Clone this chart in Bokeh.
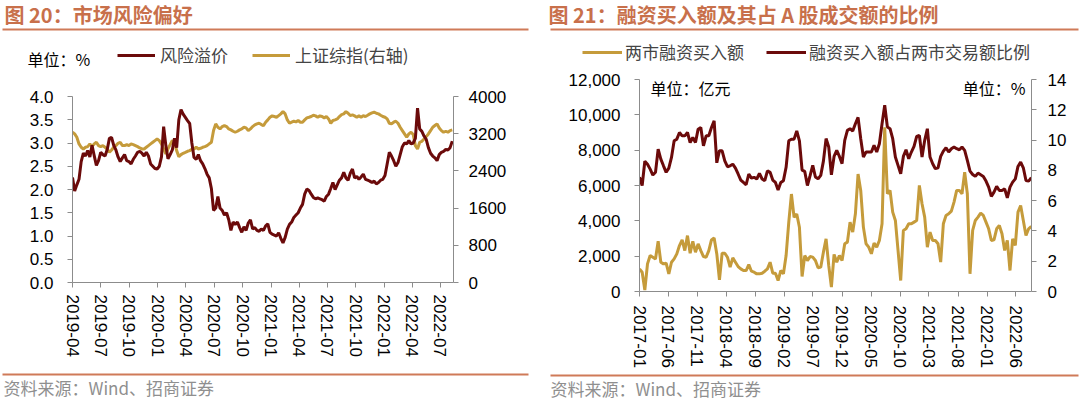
import pandas as pd
from bokeh.plotting import figure
from bokeh.models import (Range1d, LinearAxis, FixedTicker, NumeralTickFormatter,
                          DatetimeTickFormatter, Legend, LegendItem, Label,
                          BoxAnnotation, ColumnDataSource)
from bokeh.layouts import row, column
from bokeh.embed import file_html
from bokeh.resources import INLINE

# ---------------- data: left chart (weekly from 2019-04-01) ----------------
left_start = "2019-04-01"
risk_premium = [
    2.26, 1.97, 2.10, 2.22, 2.60, 2.78, 2.72, 2.84, 2.70, 2.95,
    2.73, 2.52, 2.62, 2.80, 2.75, 2.72, 2.86, 3.10, 3.12, 2.95,
    2.85, 2.70, 2.60, 2.68, 2.75, 2.62, 2.60, 2.55, 2.65, 2.72,
    2.80, 2.82, 2.78, 2.72, 2.80, 2.72, 2.55, 2.50, 2.45, 2.44,
    2.50, 2.70, 3.35, 2.95, 2.66, 2.75, 2.85, 3.10, 2.90, 3.50,
    3.72, 3.62, 3.55, 3.48, 3.42, 3.00, 2.69, 2.65, 2.75, 2.62,
    2.55, 2.45, 2.33, 2.25, 2.02, 1.55, 1.60, 1.85, 1.60, 1.55,
    1.45, 1.50, 1.35, 1.12, 1.30, 1.25, 1.30, 1.18, 1.08, 1.20,
    1.12, 1.28, 1.35, 1.15, 1.18, 1.12, 1.10, 1.15, 1.12, 1.22,
    1.26, 1.08, 1.04, 1.02, 1.00, 1.07, 0.95, 0.85, 0.97, 1.15,
    1.25, 1.30, 1.40, 1.45, 1.50, 1.60, 1.68, 1.90, 2.01, 1.98,
    1.90, 1.83, 1.80, 1.82, 1.80, 1.78, 1.75, 1.85, 1.90, 2.02,
    2.15, 2.00, 2.10, 2.20, 2.25, 2.37, 2.25, 2.20, 2.35, 2.44,
    2.25, 2.28, 2.22, 2.27, 2.33, 2.22, 2.20, 2.18, 2.15, 2.18,
    2.12, 2.15, 2.20, 2.22, 2.30, 2.55, 2.80, 2.72, 2.62, 2.50,
    2.58, 2.75, 2.92, 3.00, 2.98, 3.05, 2.98, 3.00, 3.10, 3.75,
    3.30, 3.25, 3.15, 3.08, 2.90, 2.78, 2.72, 2.68, 2.62, 2.75,
    2.80, 2.82, 2.86, 2.85, 2.90, 3.04,
]
sh_index = [
    3231, 3195, 3123, 2980, 2908, 2872, 2908, 2922, 2980, 2930,
    2980, 3016, 2944, 2922, 2944, 2908, 2872, 2800, 2850, 2908,
    2944, 2994, 3016, 2944, 2944, 2965, 2944, 2980, 2965, 2944,
    2922, 2894, 2872, 2872, 2908, 2944, 2980, 3016, 3052, 3087,
    3052, 2980, 2872, 2764, 2872, 2965, 3052, 3016, 2836, 2707,
    2750, 2779, 2800, 2822, 2836, 2865, 2872, 2908, 2872, 2886,
    2908, 2922, 2944, 2980, 3016, 3267, 3411, 3339, 3303, 3353,
    3375, 3353, 3303, 3282, 3253, 3231, 3253, 3282, 3303, 3339,
    3325, 3267, 3303, 3353, 3389, 3411, 3425, 3397, 3375, 3447,
    3497, 3554, 3583, 3569, 3554, 3590, 3626, 3676, 3626, 3497,
    3425, 3447, 3468, 3454, 3483, 3447, 3447, 3497, 3540, 3554,
    3569, 3597, 3583, 3554, 3583, 3569, 3540, 3569, 3518, 3425,
    3483, 3497, 3518, 3569, 3611, 3626, 3676, 3640, 3590, 3604,
    3583, 3554, 3583, 3554, 3590, 3569, 3597, 3626, 3648, 3662,
    3640, 3626, 3597, 3569, 3554, 3518, 3425, 3411, 3447, 3468,
    3425, 3339, 3267, 3195, 3123, 3195, 3231, 3181, 2944, 2872,
    3016, 3037, 3087, 3138, 3195, 3267, 3339, 3375, 3411, 3324,
    3267, 3231, 3253, 3231, 3267, 3281,
]
left_xticks = ["2019-04", "2019-07", "2019-10", "2020-01", "2020-04", "2020-07",
               "2020-10", "2021-01", "2021-04", "2021-07", "2021-10", "2022-01",
               "2022-04", "2022-07"]
left_yticks = [0, 0.5, 1.0, 1.5, 2.0, 2.5, 3.0, 3.5, 4.0]
left_y2ticks = [0, 800, 1600, 2400, 3200, 4000]

# ---------------- data: right chart (bi-weekly from 2017-01-01) ----------------
right_start = "2017-01-01"
margin_buy = [
    1280, 1092, 80, 1563, 2034, 1940, 1845, 2850, 1657, 1563,
    1600, 998, 1657, 1845, 2128, 2600, 2919, 2316, 3163, 2165,
    2843, 2222, 2693, 2316, 1977, 1940, 2316, 2919, 3032, 2128,
    659, 2165, 2165, 1940, 1375, 1902, 1657, 1412, 1280, 1186,
    1186, 1525, 1149, 1092, 998, 998, 1036, 1149, 1280, 1657,
    1036, 1036, 621, 1186, 998, 2034, 3917, 5517, 4199, 4387,
    3634, 847, 2034, 1751, 1977, 1945, 1756, 1340, 1378, 2228,
    2983, 1473, 245, 2096, 1661, 2039, 1756, 2700, 2794, 3927,
    3361, 4399, 6650, 5721, 3644, 2700, 2511, 2133, 2738, 2511,
    2889, 3833, 9300, 5532, 5721, 4493, 4021, 2322, 623, 3455,
    3549, 3833, 3833, 3927, 4021, 6004, 4965, 4210, 2511, 3361,
    2889, 2889, 2700, 1661, 3833, 4305, 4399, 4550, 5060, 5721,
    5721, 5532, 6759, 5532, 1001, 3455, 4021, 4210, 4437, 4305,
    3927, 3549, 2889, 2926, 3549, 3738, 3266, 2322, 2889, 1189,
    2983, 2605, 4493, 4871, 4021, 3172, 3549, 3682,
]
margin_ratio = [
    7.54, 7.00, 8.60, 8.40, 8.08, 7.69, 7.87, 9.40, 8.74, 8.30,
    7.87, 8.15, 8.85, 9.95, 10.06, 10.50, 10.28, 10.28, 10.50, 9.84,
    10.17, 9.84, 10.72, 10.83, 9.62, 10.28, 10.28, 10.83, 11.27, 8.50,
    9.30, 9.29, 8.63, 8.24, 8.30, 8.41, 8.15, 7.76, 7.36, 7.20,
    7.05, 7.76, 7.49, 7.54, 7.43, 7.80, 7.43, 7.32, 7.97, 7.87,
    7.36, 7.20, 6.70, 7.20, 7.32, 8.20, 9.95, 10.06, 10.06, 10.61,
    9.95, 8.02, 7.93, 7.00, 7.65, 8.33, 7.56, 7.44, 7.67, 8.61,
    10.10, 9.54, 7.70, 8.92, 9.32, 8.92, 8.44, 9.98, 10.64, 10.75,
    10.60, 11.08, 11.50, 10.09, 8.88, 9.21, 9.21, 9.21, 9.65, 9.21,
    9.76, 11.08, 12.30, 10.86, 10.75, 10.09, 8.88, 8.33, 7.78, 8.92,
    9.36, 8.77, 9.21, 9.58, 10.24, 10.31, 8.88, 9.98, 10.75, 8.88,
    8.44, 8.11, 8.17, 8.92, 9.27, 9.49, 9.21, 9.43, 9.54, 9.43,
    9.36, 9.54, 9.32, 8.66, 7.95, 7.73, 7.60, 7.82, 7.71, 7.60,
    7.29, 6.89, 6.28, 6.56, 6.94, 6.67, 6.67, 6.78, 6.19, 6.89,
    7.22, 7.44, 8.26, 8.55, 8.17, 7.33, 7.29, 7.51,
]
right_xticks = ["2017-01", "2017-06", "2017-11", "2018-04", "2018-09", "2019-02",
                "2019-07", "2019-12", "2020-05", "2020-10", "2021-03", "2021-08",
                "2022-01", "2022-06"]
right_yticks = [0, 2000, 4000, 6000, 8000, 10000, 12000]
right_y2ticks = [0, 2, 4, 6, 8, 10, 12, 14]

# ---------------- style ----------------
MAROON = "#6B0A0A"
GOLD = "#C59B3B"
TITLE_C = "#C8704B"
RULE_C = "#CF7A58"
AXIS_C = "#8C8C8C"
SRC_C = "#8F8F8F"
NUM_FONT = "Liberation Sans"
CJK = "Noto Sans CJK SC"
PAGE_H = 399
PANEL_W = 540
FOOT_H = 30
NAN = float("nan")


def ms(labels):
    return [pd.Timestamp(s + "-01").value // 10**6 for s in labels]


def style_axis(ax, standoff, size="17px"):
    ax.axis_line_color = AXIS_C
    ax.major_tick_line_color = AXIS_C
    ax.minor_tick_line_color = None
    ax.major_tick_out = 5
    ax.major_tick_in = 0
    ax.major_label_text_font = NUM_FONT
    ax.major_label_text_font_size = size
    ax.major_label_text_color = "#000000"
    ax.major_label_standoff = standoff


def blank_canvas(w, h):
    p = figure(width=w, height=h, x_range=Range1d(0, w), y_range=Range1d(h, 0),
               min_border=0, x_axis_location=None, y_axis_location=None,
               output_backend="svg", toolbar_location=None, title=None)
    p.xgrid.visible = False
    p.ygrid.visible = False
    p.outline_line_color = None
    p.background_fill_color = "white"
    p.border_fill_color = "white"
    p.frame_align = False
    return p


def rule(p, x0, x1, y, thick=2):
    p.add_layout(BoxAnnotation(left=x0, right=x1, top=y - thick / 2, bottom=y + thick / 2,
                               fill_color=RULE_C, fill_alpha=1, line_color=None))


def text(p, x, y, s, size, color="#000000", style="normal", align="left",
         x_units="data", y_units="data"):
    p.add_layout(Label(x=x, y=y, text=s, text_font=CJK, text_font_size=size,
                       text_color=color, text_font_style=style, text_align=align,
                       text_baseline="middle", x_units=x_units, y_units=y_units))


def chart(body_h, fl, ft, fw, fh, x_start, x_end, y_range, y2_range):
    p = figure(frame_width=fw, frame_height=fh,
               min_border_left=fl, min_border_right=PANEL_W - fl - fw,
               min_border_top=ft, min_border_bottom=body_h - ft - fh,
               x_axis_type="datetime", x_range=Range1d(x_start, x_end),
               y_range=y_range, output_backend="svg", toolbar_location=None,
               title=None)
    p.extra_y_ranges = {"r": y2_range}
    p.xgrid.visible = False
    p.ygrid.visible = False
    p.outline_line_color = None
    p.background_fill_color = "white"
    p.border_fill_color = "white"
    p.frame_align = False
    return p


leg_common = dict(orientation="horizontal", label_text_font=CJK, label_text_font_size="17px",
                  glyph_height=18, padding=0, margin=0, border_line_color=None,
                  background_fill_alpha=0, label_text_baseline="middle")

# ======================= LEFT PANEL =======================
HEAD_L = 80
BODY_L = PAGE_H - HEAD_L - FOOT_H
headL = blank_canvas(PANEL_W, HEAD_L)
text(headL, 4, 14, "图 20：市场风险偏好", "20px", color=TITLE_C, style="bold")
rule(headL, 2, 528, 29)
text(headL, 27, 58, "单位：%", "16px")

FL1, FT1, FW1, FH1 = 72, 96 - HEAD_L, 381, 186
left_dates = pd.date_range(left_start, periods=len(risk_premium), freq="7D")
p1 = chart(BODY_L, FL1, FT1, FW1, FH1, pd.Timestamp("2019-04-01"), pd.Timestamp("2022-08-12"),
           Range1d(0, 4), Range1d(0, 4000))
src1 = ColumnDataSource(dict(date=left_dates, prem=risk_premium, sh=sh_index))
r_sh = p1.line("date", "sh", source=src1, y_range_name="r", line_color=GOLD, line_width=3)
r_pr = p1.line("date", "prem", source=src1, line_color=MAROON, line_width=3)

p1.xaxis.ticker = FixedTicker(ticks=ms(left_xticks))
p1.xaxis.formatter = DatetimeTickFormatter(days="%Y-%m", months="%Y-%m", years="%Y-%m")
p1.xaxis.major_label_orientation = "vertical"
style_axis(p1.xaxis[0], standoff=7)
p1.yaxis.ticker = FixedTicker(ticks=left_yticks)
p1.yaxis.formatter = NumeralTickFormatter(format="0.0")
style_axis(p1.yaxis[0], standoff=14)
ax_r1 = LinearAxis(y_range_name="r", ticker=FixedTicker(ticks=left_y2ticks))
style_axis(ax_r1, standoff=10)
p1.add_layout(ax_r1, "right")

# legend (proxy renderers in the header share the chart line styles)
hl_pr = headL.line(x=[NAN], y=[NAN], line_color=MAROON, line_width=3)
hl_sh = headL.line(x=[NAN], y=[NAN], line_color=GOLD, line_width=3)
leg1 = Legend(items=[LegendItem(label="风险溢价", renderers=[hl_pr]),
                     LegendItem(label="上证综指(右轴)", renderers=[hl_sh])],
              location=(117, HEAD_L - 58 - 9), glyph_width=38, label_standoff=5,
              spacing=24, **leg_common)
headL.add_layout(leg1)

footL = blank_canvas(PANEL_W, FOOT_H)
rule(footL, 2, 528, 374 - (PAGE_H - FOOT_H))
text(footL, 3, 387 - (PAGE_H - FOOT_H), "资料来源：Wind、招商证券", "17px", color=SRC_C)

# ======================= RIGHT PANEL =======================
HEAD_R = 68
BODY_R = PAGE_H - HEAD_R - FOOT_H
X0 = PANEL_W  # page x where the right panel starts
headR = blank_canvas(PANEL_W, HEAD_R)
text(headR, 548 - X0, 14, "图 21：融资买入额及其占 A 股成交额的比例", "20px",
     color=TITLE_C, style="bold")
rule(headR, 550 - X0, 1078 - X0, 29)

FL2, FT2, FW2, FH2 = 99, 79 - HEAD_R, 392, 212
right_dates = pd.date_range(right_start, periods=len(margin_buy), freq="14D")
p2 = chart(BODY_R, FL2, FT2, FW2, FH2, pd.Timestamp("2017-01-01"), pd.Timestamp("2022-08-22"),
           Range1d(0, 12000), Range1d(0, 14))
src2 = ColumnDataSource(dict(date=right_dates, amt=margin_buy, ratio=margin_ratio))
r_ratio = p2.line("date", "ratio", source=src2, y_range_name="r", line_color=MAROON, line_width=3)
r_amt = p2.line("date", "amt", source=src2, line_color=GOLD, line_width=3)

p2.xaxis.ticker = FixedTicker(ticks=ms(right_xticks))
p2.xaxis.formatter = DatetimeTickFormatter(days="%Y-%m", months="%Y-%m", years="%Y-%m")
p2.xaxis.major_label_orientation = "vertical"
style_axis(p2.xaxis[0], standoff=9)
p2.yaxis.ticker = FixedTicker(ticks=right_yticks)
p2.yaxis.formatter = NumeralTickFormatter(format="0,0")
style_axis(p2.yaxis[0], standoff=14)
ax_r2 = LinearAxis(y_range_name="r", ticker=FixedTicker(ticks=right_y2ticks))
style_axis(ax_r2, standoff=11)
p2.add_layout(ax_r2, "right")

# unit notes inside the right frame (screen units, relative to the frame)
text(p2, 650 - (X0 + FL2), 291 - 87, "单位：亿元", "16px", x_units="screen", y_units="screen")
text(p2, 1025 - (X0 + FL2), 291 - 87, "单位：%", "16px", align="right",
     x_units="screen", y_units="screen")

hr_amt = headR.line(x=[NAN], y=[NAN], line_color=GOLD, line_width=3)
hr_ratio = headR.line(x=[NAN], y=[NAN], line_color=MAROON, line_width=3)
leg2 = Legend(items=[LegendItem(label="两市融资买入额", renderers=[hr_amt]),
                     LegendItem(label="融资买入额占两市交易额比例", renderers=[hr_ratio])],
              location=(582 - X0, HEAD_R - 55 - 9), glyph_width=40, label_standoff=3,
              spacing=22, **leg_common)
headR.add_layout(leg2)

footR = blank_canvas(PANEL_W, FOOT_H)
rule(footR, 550 - X0, 1078 - X0, 374 - (PAGE_H - FOOT_H))
text(footR, 550 - X0, 387 - (PAGE_H - FOOT_H), "资料来源：Wind、招商证券", "17px", color=SRC_C)

layout = row(column(headL, p1, footL, spacing=0),
             column(headR, p2, footR, spacing=0), spacing=0)
open("out.html", "w").write(file_html(layout, INLINE))
